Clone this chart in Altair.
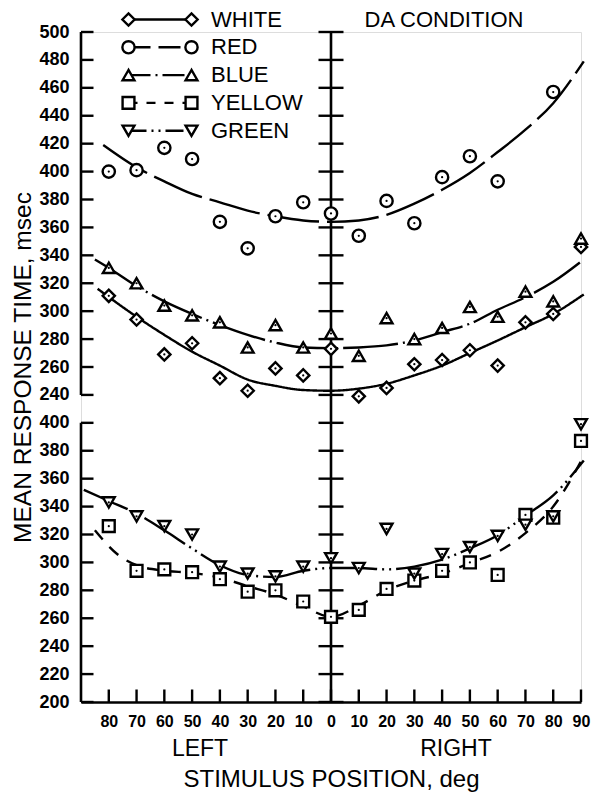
import altair as alt
import pandas as pd

# ---------------- data ----------------
positions = [-80, -70, -60, -50, -40, -30, -20, -10, 0, 10, 20, 30, 40, 50, 60, 70, 80, 90]
red_positions = [-80, -70, -60, -50, -40, -30, -20, -10, 0, 10, 20, 30, 40, 50, 60, 80]

white_rt = [311, 294, 269, 277, 252, 243, 259, 254, 273, 239, 245, 262, 265, 272, 261, 292, 298, 346]
red_rt = [400, 401, 417, 409, 364, 345, 368, 378, 370, 354, 379, 363, 396, 411, 393, 457]
blue_rt = [331, 320, 304, 297, 292, 274, 290, 274, 284, 268, 295, 280, 288, 303, 296, 314, 307, 352]
yellow_rt = [326, 294, 295, 293, 288, 279, 280, 272, 261, 266, 281, 287, 294, 300, 291, 334, 332, 387]
green_rt = [343, 333, 326, 320, 297, 292, 290, 297, 303, 296, 324, 292, 306, 311, 319, 327, 333, 399]

# fitted curves
white_fit_pos = [-84, -70, -60, -50, -40, -30, -20, -10, 0, 10, 20, 30, 40, 50, 60, 70, 80, 91]
white_fit = [316, 296, 283, 271, 261, 251, 246.5, 243.5, 243, 244.5, 248, 254, 261, 270, 279, 288.5, 298, 312]
red_fit_pos = [-82, -70, -60, -50, -40, -30, -20, -10, 0, 10, 20, 30, 40, 50, 60, 70, 80, 91]
red_fit = [419, 403, 393, 384, 378, 372, 368, 365, 364, 365, 369, 377, 387, 399, 414, 430, 449, 479]
blue_fit_pos = [-85, -80, -70, -60, -50, -40, -30, -20, -10, 0, 10, 20, 30, 40, 50, 60, 70, 80, 91]
blue_fit = [337, 331, 318, 307, 298, 290, 283, 277.5, 274, 273.5, 274, 275.5, 279, 285, 291, 301, 310, 321, 337]
yellow_fit_pos = [-85, -77, -70, -60, -50, -40, -30, -20, -10, 0, 10, 20, 30, 40, 50, 60, 70, 80, 91]
yellow_fit = [323, 306, 298, 294, 292.5, 289, 283, 277, 268.5, 261, 269, 280, 287, 292, 299.5, 307.5, 321, 340, 376]
green_fit_pos = [-89, -80, -70, -60, -50, -40, -30, -20, -10, 0, 10, 20, 30, 40, 50, 60, 70, 80, 91]
green_fit = [352, 344, 335, 323, 310, 298, 291, 289.5, 294, 296, 296, 295, 297, 302, 310, 319.5, 333.5, 348, 373]

series_names = ["WHITE", "RED", "BLUE", "YELLOW", "GREEN"]
series_panel = ["top", "top", "top", "bottom", "bottom"]

bottom_ticks = list(range(200, 401, 20))
top_ticks = list(range(240, 501, 20))
x_ticks = list(range(-80, 91, 10))

# ---------------- tables ----------------
point_sets = {
    "WHITE": (positions, white_rt),
    "RED": (red_positions, red_rt),
    "BLUE": (positions, blue_rt),
    "YELLOW": (positions, yellow_rt),
    "GREEN": (positions, green_rt),
}
fit_sets = {
    "WHITE": (white_fit_pos, white_fit),
    "RED": (red_fit_pos, red_fit),
    "BLUE": (blue_fit_pos, blue_fit),
    "YELLOW": (yellow_fit_pos, yellow_fit),
    "GREEN": (green_fit_pos, green_fit),
}

OFFSET = 180  # top panel drawn above the bottom panel on one shared axis
W, H = 500, 670

shapes = {"WHITE": "diamond", "RED": "circle", "BLUE": "triangle-up",
          "YELLOW": "square", "GREEN": "triangle-down"}
sizes = {"WHITE": 150, "RED": 150, "BLUE": 140, "YELLOW": 140, "GREEN": 140}
dashes = {"WHITE": [1, 0], "RED": [52, 8], "BLUE": [55, 5, 2, 5],
          "YELLOW": [12, 10], "GREEN": [48, 5, 2, 5, 2, 5]}
legend_dashes = {"WHITE": [1, 0], "RED": [22, 8], "BLUE": [22, 5, 2, 5],
                 "YELLOW": [9, 9], "GREEN": [18, 5, 2, 5, 2, 5]}

LABEL_FONT = "Liberation Sans, Arial, sans-serif"
TEXT_FONT = "Liberation Sans, Arial, sans-serif"
INK = "black"

xscale = alt.Scale(domain=[-90, 90], nice=False, zero=False)
yscale = alt.Scale(domain=[bottom_ticks[0], top_ticks[-1] + OFFSET], nice=False, zero=False)

xaxis = alt.Axis(values=x_ticks, labelExpr="abs(datum.value)", domain=True, domainColor=INK,
                 domainWidth=2.6, ticks=False, grid=False, labelFont=LABEL_FONT, labelFontSize=16,
                 labelFontWeight="bold", labelColor=INK, labelPadding=11, labelFlush=False,
                 labelOverlap=False, title="STIMULUS POSITION, deg", titleFont=TEXT_FONT,
                 titleFontSize=24, titleFontWeight="normal", titleColor=INK, titlePadding=38)
yaxis = alt.Axis(values=bottom_ticks + [t + OFFSET for t in top_ticks],
                 labelExpr=f"datum.value > {bottom_ticks[-1]} ? datum.value - {OFFSET} : datum.value",
                 domain=False, ticks=False, grid=False, labelFont=LABEL_FONT, labelFontSize=18,
                 labelFontWeight="bold", labelColor=INK, labelPadding=12, labelOverlap=False,
                 labelFlush=False, title="MEAN RESPONSE TIME, msec", titleFont=TEXT_FONT,
                 titleFontSize=24.5, titleFontWeight="normal", titleColor=INK, titlePadding=3)

X = alt.X("pos:Q", scale=xscale, axis=xaxis)
Y = alt.Y("yv:Q", scale=yscale, axis=yaxis)
Y2 = alt.Y2("yv2:Q")
SHIFT = f"datum.panel === 'top' ? datum.rt + {OFFSET} : datum.rt"

layers = []

# axis frame: left axis line of each panel and the central axis
frame_df = pd.DataFrame({
    "pos": [-90, -90, 0],
    "yv": [bottom_ticks[0], top_ticks[0] + OFFSET, bottom_ticks[0]],
    "yv2": [bottom_ticks[-1], top_ticks[-1] + OFFSET, top_ticks[-1] + OFFSET],
})
layers.append(alt.Chart(frame_df).mark_rule(color=INK, strokeWidth=2.6).encode(x=X, y=Y, y2=Y2))

ytick_df = pd.DataFrame({"yv": bottom_ticks + [t + OFFSET for t in top_ticks]})
layers.append(alt.Chart(ytick_df).mark_rule(color=INK, strokeWidth=2.4).encode(
    y=Y, x=alt.value(0), x2=alt.value(12.5)))
layers.append(alt.Chart(ytick_df).mark_rule(color=INK, strokeWidth=2.4).encode(
    y=Y, x=alt.value(W / 2 - 12.5), x2=alt.value(W / 2 + 12.5)))
xtick_df = pd.DataFrame({"pos": x_ticks})
layers.append(alt.Chart(xtick_df).mark_rule(color=INK, strokeWidth=2.4).encode(
    x=X, y=alt.value(H), y2=alt.value(H - 12.5)))

# fitted curves
for name, panel in zip(series_names, series_panel):
    p, v = fit_sets[name]
    df = pd.DataFrame({"pos": p, "rt": v, "panel": panel})
    layers.append(alt.Chart(df).transform_calculate(yv=SHIFT).mark_line(
        color=INK, strokeWidth=2.4, strokeDash=dashes[name], interpolate="monotone").encode(x=X, y=Y))

# data points
for name, panel in zip(series_names, series_panel):
    p, v = point_sets[name]
    df = pd.DataFrame({"pos": p, "rt": v, "panel": panel})
    base = alt.Chart(df).transform_calculate(yv=SHIFT)
    layers.append(base.mark_point(shape=shapes[name], size=sizes[name], filled=True, fill="white",
                                  stroke=INK, strokeWidth=2.4, opacity=1).encode(x=X, y=Y))
    layers.append(base.mark_circle(size=5, color=INK, opacity=1).encode(x=X, y=Y))

# hand-drawn legend
LEG_Y0, LEG_DY = -12.5, 27.8
LEG_X1, LEG_X2, LEG_TX = 47.5, 110.5, 130
for i, name in enumerate(series_names):
    yy = LEG_Y0 + i * LEG_DY
    one = alt.Chart(pd.DataFrame({"label": [name]}))
    layers.append(one.mark_rule(color=INK, strokeWidth=2.4, strokeDash=legend_dashes[name]).encode(
        x=alt.value(LEG_X1), x2=alt.value(LEG_X2), y=alt.value(yy)))
    for xx in (LEG_X1, LEG_X2):
        layers.append(one.mark_point(shape=shapes[name], size=sizes[name], filled=True, fill="white",
                                     stroke=INK, strokeWidth=2.4, opacity=1).encode(
            x=alt.value(xx), y=alt.value(yy)))
    layers.append(one.mark_text(font=TEXT_FONT, fontSize=22, align="left", baseline="middle",
                                color=INK).encode(text="label:N", x=alt.value(LEG_TX), y=alt.value(yy)))

# annotations
layers.append(alt.Chart(pd.DataFrame({"t": ["DA CONDITION"]})).mark_text(
    font=TEXT_FONT, fontSize=22, align="center", baseline="middle", color=INK).encode(
    text="t:N", x=alt.value(363), y=alt.value(-12.5)))
layers.append(alt.Chart(pd.DataFrame({"t": ["LEFT"]})).mark_text(
    font=TEXT_FONT, fontSize=23, align="center", baseline="middle", color=INK).encode(
    text="t:N", x=alt.value(119), y=alt.value(H + 47)))
layers.append(alt.Chart(pd.DataFrame({"t": ["RIGHT"]})).mark_text(
    font=TEXT_FONT, fontSize=23, align="center", baseline="middle", color=INK).encode(
    text="t:N", x=alt.value(375), y=alt.value(H + 47)))

chart = alt.layer(*layers).properties(
    width=W, height=H, padding={"left": 2, "top": 0, "right": 0, "bottom": 2}
).configure_view(stroke=None).configure(background="white")

chart.save("out.html", embed_options={"renderer": "svg", "actions": False})
